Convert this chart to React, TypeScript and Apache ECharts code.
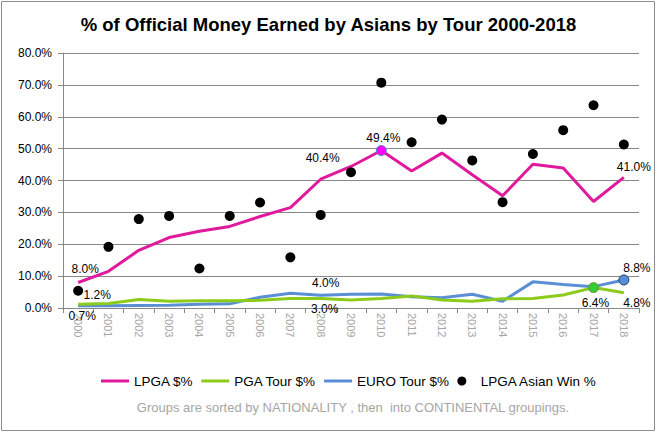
import React, { useEffect, useRef } from "react";
import * as echarts from "echarts";

const years = ["2000","2001","2002","2003","2004","2005","2006","2007","2008","2009","2010","2011","2012","2013","2014","2015","2016","2017","2018"];
const lpgaMoney = [8.0, 11.5, 18.1, 22.1, 24.1, 25.6, 28.7, 31.5, 40.4, 44.4, 49.4, 43.0, 48.6, 41.8, 35.2, 45.1, 43.9, 33.4, 41.0];
const pgaMoney = [1.2, 1.4, 2.7, 2.1, 2.3, 2.3, 2.4, 3.0, 3.0, 2.5, 3.0, 3.8, 2.5, 2.1, 2.9, 3.0, 4.1, 6.4, 4.8];
const euroMoney = [0.7, 0.7, 0.8, 0.9, 1.2, 1.3, 3.4, 4.6, 4.0, 4.3, 4.4, 3.5, 3.2, 4.3, 2.1, 8.2, 7.4, 6.7, 8.8];
const lpgaWins = [5.4, 19.2, 27.9, 28.9, 12.4, 28.9, 33.1, 15.9, 29.2, 42.6, 70.7, 52.0, 59.1, 46.3, 33.2, 48.3, 55.8, 63.6, 51.3];
const yTicks = [0, 10, 20, 30, 40, 50, 60, 70, 80];

const seriesNames = ["LPGA $%", "PGA Tour $%", "EURO Tour $%", "LPGA Asian Win %"];
const titleText = "% of Official Money Earned by Asians by Tour 2000-2018";
const noteText = "Groups are sorted by NATIONALITY , then  into CONTINENTAL groupings.";

const C_LPGA = "#E01A9C";
const C_PGA = "#8DCB1A";
const C_EURO = "#5A8FD6";

type LabelSpec = { idx: number; dx: number; dy: number; marker?: { fill: string; border: string } };

const lpgaLabels: LabelSpec[] = [
  { idx: 0, dx: 7, dy: -14 },
  { idx: 8, dx: 2, dy: -21 },
  { idx: 10, dx: 2, dy: -13, marker: { fill: "#FF00FF", border: "#4F81BD" } },
  { idx: 18, dx: 10, dy: -10 },
];
const pgaLabels: LabelSpec[] = [
  { idx: 0, dx: 19, dy: -9 },
  { idx: 8, dx: 4, dy: 11 },
  { idx: 17, dx: 2, dy: 15, marker: { fill: "#33CC33", border: "#77933C" } },
  { idx: 18, dx: 13, dy: 10 },
];
const euroLabels: LabelSpec[] = [
  { idx: 0, dx: 4, dy: 10 },
  { idx: 8, dx: 5, dy: -12 },
  { idx: 18, dx: 13, dy: -12, marker: { fill: "#558ED5", border: "#1F3864" } },
];

const FONT = "Liberation Sans";

function buildData(values: number[], specs: LabelSpec[]) {
  return values.map((v, i) => {
    const s = specs.find((x) => x.idx === i);
    if (!s) return v;
    return {
      value: v,
      symbol: "circle",
      symbolSize: s.marker ? 10 : 0,
      itemStyle: s.marker
        ? { color: s.marker.fill, borderColor: s.marker.border, borderWidth: 1 }
        : { color: "transparent" },
      label: {
        show: true,
        position: "inside",
        offset: [s.dx, s.dy],
        formatter: (p: any) => Number(p.value).toFixed(1) + "%",
        color: "#000",
        fontFamily: FONT,
        fontSize: 12,
      },
    };
  });
}

export default function App() {
  const ref = useRef<HTMLDivElement>(null);
  useEffect(() => {
    if (!ref.current) return;
    const chart = echarts.init(ref.current, undefined, { renderer: "svg" });
    const lineSeries = (name: string, color: string, values: number[], specs: LabelSpec[]) => ({
      name,
      type: "line",
      data: buildData(values, specs),
      symbol: "none",
      showAllSymbol: true,
      lineStyle: { color, width: 3 },
      itemStyle: { color },
      emphasis: { disabled: true },
      z: 3,
    });
    const linePath = "path://M0,0H28V3H0Z";
    chart.setOption({
      animation: false,
      title: {
        text: titleText,
        left: "center",
        top: 10,
        textStyle: { fontFamily: FONT, fontWeight: "bold", fontSize: 18.5, color: "#000" },
      },
      grid: { left: 63, right: 18, top: 53, bottom: 125 },
      legend: {
        top: 369,
        left: 96,
        itemWidth: 28,
        itemHeight: 9,
        itemGap: 8,
        textStyle: { fontFamily: FONT, fontSize: 13.5, color: "#000" },
        data: [
          { name: seriesNames[0], icon: linePath, itemStyle: { color: C_LPGA } },
          { name: seriesNames[1], icon: linePath, itemStyle: { color: C_PGA } },
          { name: seriesNames[2], icon: linePath, itemStyle: { color: C_EURO } },
          { name: seriesNames[3], icon: "circle", itemStyle: { color: "#000" } },
        ],
      },
      xAxis: {
        type: "category",
        data: years,
        boundaryGap: true,
        axisLine: { show: true, lineStyle: { color: "#888", width: 1 } },
        axisTick: { show: true, length: 5, alignWithLabel: false, lineStyle: { color: "#888" } },
        axisLabel: {
          rotate: -90,
          interval: 0,
          margin: 5,
          color: "#A6A6A6",
          fontFamily: FONT,
          fontSize: 11,
        },
      },
      yAxis: {
        type: "value",
        min: yTicks[0],
        max: yTicks[yTicks.length - 1],
        interval: 10,
        axisLine: { show: true, lineStyle: { color: "#888", width: 1 } },
        axisTick: { show: true, length: 5, lineStyle: { color: "#888" } },
        splitLine: { show: true, lineStyle: { color: "#888", width: 1 } },
        axisLabel: {
          formatter: (v: number) => v.toFixed(1) + "%",
          color: "#000",
          fontFamily: FONT,
          fontSize: 12,
          margin: 11,
        },
      },
      graphic: [
        {
          type: "rect",
          shape: { x: 1.5, y: 1.5, width: 653, height: 429 },
          style: { fill: "none", stroke: "#8C8C8C", lineWidth: 1 },
          silent: true,
        },
        {
          type: "text",
          x: 353,
          y: 407,
          style: {
            text: noteText,
            fill: "#A6A6A6",
            font: `13px "${FONT}"`,
            textAlign: "center",
            textVerticalAlign: "middle",
          },
          silent: true,
        },
      ],
      series: [
        lineSeries(seriesNames[0], C_LPGA, lpgaMoney, lpgaLabels),
        lineSeries(seriesNames[2], C_EURO, euroMoney, euroLabels),
        lineSeries(seriesNames[1], C_PGA, pgaMoney, pgaLabels),
        {
          name: seriesNames[3],
          type: "scatter",
          data: lpgaWins,
          symbol: "circle",
          symbolSize: 10,
          itemStyle: { color: "#000", opacity: 1 },
          emphasis: { disabled: true },
          z: 4,
        },
      ],
    });
    return () => chart.dispose();
  }, []);
  return (
    <div
      ref={ref}
      style={{ position: "fixed", left: 0, top: 0, width: 657, height: 433, background: "#fff" }}
    />
  );
}
